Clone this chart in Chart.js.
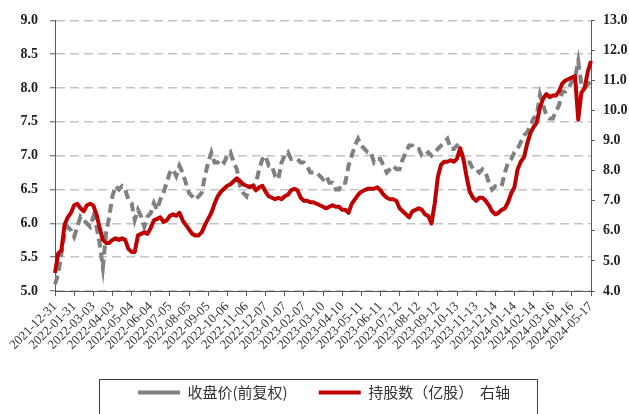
<!DOCTYPE html>
<html>
<head>
<meta charset="utf-8">
<script src="https://cdn.jsdelivr.net/npm/chart.js@4.4.1/dist/chart.umd.min.js"></script>
<style>
body { margin: 0; background: #fff; }
</style>
</head>
<body>
<canvas id="myChart" width="629" height="414"></canvas>
<script>
// one tick label every 6 points (31 calendar days)
const tickLabels = [
  "2021-12-31", "2022-01-31", "2022-03-03", "2022-04-03", "2022-05-04", "2022-06-04",
  "2022-07-05", "2022-08-05", "2022-09-05", "2022-10-06", "2022-11-06", "2022-12-07",
  "2023-01-07", "2023-02-07", "2023-03-10", "2023-04-10", "2023-05-11", "2023-06-11",
  "2023-07-12", "2023-08-12", "2023-09-12", "2023-10-13", "2023-11-13", "2023-12-14",
  "2024-01-14", "2024-02-14", "2024-03-16", "2024-04-16", "2024-05-17"
];
const stepsPerTick = 6;

// 收盘价(前复权), left axis
const closePrice = [
  5.1, 5.25, 5.55, 5.85, 5.95, 5.9, 5.8, 5.95, 6.1, 6.05,
  6.0, 5.95, 6.1, 5.95, 5.7, 5.35, 5.85, 6.1, 6.4, 6.55,
  6.5, 6.55, 6.5, 6.35, 6.3, 6.05, 6.2, 6.1, 5.95, 6.1,
  6.15, 6.3, 6.2, 6.35, 6.45, 6.6, 6.75, 6.8, 6.7, 6.85,
  6.75, 6.6, 6.45, 6.4, 6.35, 6.4, 6.45, 6.7, 6.9, 7.05,
  6.9, 6.9, 6.95, 6.9, 7.0, 7.05, 6.9, 6.8, 6.55, 6.45,
  6.4, 6.55, 6.55, 6.6, 6.8, 6.95, 7.0, 6.85, 6.85, 6.7,
  6.65, 6.9, 7.0, 7.05, 6.95, 6.95, 6.95, 6.9, 6.9, 6.85,
  6.75, 6.75, 6.75, 6.7, 6.65, 6.7, 6.6, 6.6, 6.5, 6.5,
  6.6, 6.6, 6.85, 7.0, 7.15, 7.25, 7.15, 7.1, 7.05, 7.05,
  6.9, 6.95, 6.95, 6.85, 6.75, 6.8, 6.85, 6.8, 6.8, 6.95,
  7.05, 7.15, 7.15, 7.1, 7.1, 7.0, 7.0, 7.05, 7.0, 7.05,
  7.1, 7.15, 7.2, 7.25, 7.1, 7.1, 7.15, 7.1, 6.95, 6.9,
  6.9, 6.8, 6.8, 6.75, 6.8, 6.75, 6.6, 6.5, 6.55, 6.55,
  6.55, 6.75, 6.9, 6.95, 7.05, 7.1, 7.2, 7.3, 7.35, 7.45,
  7.55, 7.6, 7.9, 7.75, 7.6, 7.55, 7.55, 7.65, 7.75, 7.95,
  7.95, 8.0, 8.1, 8.15, 8.4, 8.05, 8.0, 8.05, 8.1
];

// 持股数（亿股）, right axis
const sharesHeld = [
  4.6, 5.25, 5.35, 6.2, 6.45, 6.6, 6.85, 6.9, 6.75, 6.65,
  6.85, 6.9, 6.85, 6.55, 6.1, 5.7, 5.6, 5.6, 5.7, 5.75,
  5.7, 5.75, 5.7, 5.4, 5.3, 5.3, 5.85, 5.9, 5.95, 5.9,
  6.1, 6.35, 6.4, 6.45, 6.3, 6.35, 6.5, 6.55, 6.5, 6.6,
  6.35, 6.2, 6.05, 5.9, 5.85, 5.85, 5.95, 6.2, 6.4, 6.6,
  6.9, 7.15, 7.3, 7.4, 7.5, 7.55, 7.65, 7.75, 7.65, 7.55,
  7.5, 7.45, 7.5, 7.35, 7.45, 7.5, 7.3, 7.15, 7.1, 7.05,
  7.1, 7.05, 7.15, 7.2, 7.35, 7.4, 7.35, 7.1, 7.0, 7.0,
  6.95, 6.95, 6.9, 6.85, 6.8, 6.75, 6.8, 6.85, 6.8, 6.8,
  6.7, 6.7, 6.6, 6.9, 7.05, 7.2, 7.3, 7.35, 7.4, 7.4,
  7.4, 7.45, 7.35, 7.2, 7.1, 7.05, 7.05, 7.0, 6.75, 6.65,
  6.55, 6.45, 6.65, 6.7, 6.75, 6.7, 6.55, 6.5, 6.25, 6.9,
  7.8, 8.2, 8.3, 8.3, 8.35, 8.3, 8.4, 8.75, 8.4, 7.8,
  7.3, 7.1, 7.0, 7.1, 7.1, 7.0, 6.85, 6.65, 6.55, 6.6,
  6.7, 6.75, 6.95, 7.25, 7.45, 8.05, 8.3, 8.45, 8.9, 9.25,
  9.45, 9.6, 10.1, 10.4, 10.55, 10.45, 10.5, 10.5, 10.65, 10.9,
  11.0, 11.05, 11.1, 11.15, 9.7, 10.6, 10.75, 11.3, 11.65
];

const seriesNames = ["收盘价(前复权)", "持股数（亿股）"];
const rightAxisNote = "右轴";

const labels = closePrice.map((v, i) => i % stepsPerTick === 0 ? tickLabels[i / stepsPerTick] : "");

const axisColor = "#595959";
const gridColor = "#c4c4c4";
const numFont = { family: "Liberation Serif", size: 14, weight: "bold" };

// the legend in the picture sits in a thin frame that runs off the bottom
const legendFrame = {
  id: "legendFrame",
  afterDraw(chart) {
    const boxes = chart.legend.legendHitBoxes;
    if (!boxes || !boxes.length) return;
    const first = boxes[0];
    const last = boxes[boxes.length - 1];
    const left = Math.round(first.left - 39) + 0.5;
    const right = Math.round(last.left + last.width + 27) + 0.5;
    const top = Math.round(first.top - 6) + 0.5;
    const ctx = chart.ctx;
    ctx.save();
    ctx.strokeStyle = "#404040";
    ctx.lineWidth = 1;
    ctx.strokeRect(left, top, right - left, chart.height - top + 10);
    ctx.restore();
  }
};

const data = {
  labels,
  datasets: [
    {
      label: seriesNames[0],
      data: closePrice,
      yAxisID: "y",
      borderColor: "#808080",
      backgroundColor: "#808080",
      borderWidth: 4,
      borderDash: [9, 5],
      pointRadius: 0,
      order: 1
    },
    {
      label: seriesNames[1] + "  " + rightAxisNote,
      data: sharesHeld,
      yAxisID: "y2",
      borderColor: "#c00000",
      backgroundColor: "#c00000",
      borderWidth: 4,
      borderJoinStyle: "round",
      pointRadius: 0,
      order: 0
    }
  ]
};

const config = {
  type: "line",
  data,
  plugins: [legendFrame],
  options: {
    responsive: false,
    animation: false,
    devicePixelRatio: 1,
    layout: { padding: { left: 20, right: 1, top: 7, bottom: 4 } },
    plugins: {
      tooltip: { enabled: false },
      legend: {
        position: "bottom",
        labels: {
          sort: (a, b) => a.datasetIndex - b.datasetIndex,
          usePointStyle: true,
          pointStyle: "line",
          pointStyleWidth: 42,
          padding: 21,
          color: "#333",
          font: { family: "Noto Sans CJK SC", size: 15 },
          generateLabels(chart) {
            const items = Chart.defaults.plugins.legend.labels.generateLabels(chart);
            items.forEach(item => {
              if (item.datasetIndex === 0) item.text = item.text + "   ";
            });
            return items;
          }
        }
      }
    },
    scales: {
      x: {
        type: "category",
        offset: false,
        afterBuildTicks(scale) {
          scale.ticks = scale.ticks.filter(t => t.value % stepsPerTick === 0);
        },
        afterFit(scale) {
          // rotated labels may hang past the plot edges, as in the picture
          scale.paddingLeft = 0;
          scale.paddingRight = 0;
          scale.height = 73;
        },
        grid: { drawOnChartArea: false, drawTicks: true, tickLength: 5, tickColor: axisColor },
        border: { display: true, color: axisColor, width: 1 },
        ticks: {
          autoSkip: false,
          maxRotation: 45,
          minRotation: 45,
          padding: 3,
          color: "#333",
          font: { family: "Liberation Serif", size: 13 }
        }
      },
      y: {
        position: "left",
        min: 5,
        max: 9,
        afterFit(scale) { scale.width = 35; },
        grid: { color: gridColor, lineWidth: 1.5, tickLength: 5, tickColor: axisColor, tickWidth: 1 },
        border: { display: true, color: axisColor, width: 1, dash: [9, 5] },
        ticks: {
          stepSize: 0.5,
          padding: 12,
          color: "#222",
          font: numFont,
          callback: v => v.toFixed(1)
        }
      },
      y2: {
        position: "right",
        min: 4,
        max: 13,
        afterFit(scale) { scale.width = 37; },
        grid: { drawOnChartArea: false, tickLength: 4, tickColor: axisColor },
        border: { display: true, color: axisColor, width: 1 },
        ticks: {
          stepSize: 1,
          padding: 8,
          color: "#222",
          font: numFont,
          callback: v => v.toFixed(1)
        }
      }
    }
  }
};

const myChart = document.getElementById("myChart");
new Chart(myChart, config);
</script>
</body>
</html>
